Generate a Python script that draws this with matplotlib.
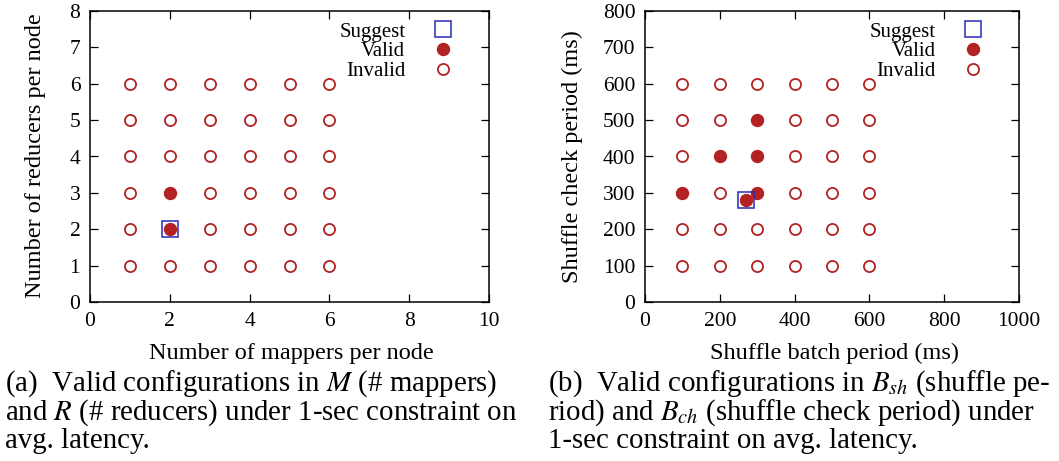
import matplotlib
matplotlib.use("Agg")
import matplotlib.pyplot as plt
from matplotlib.lines import Line2D

plt.rcParams['font.family'] = ['Liberation Serif', 'DejaVu Serif']
plt.rcParams['mathtext.fontset'] = 'stix'

RED = "#b22222"
BLUE = "#2a2ab8"

# (a) mappers / reducers
mappers = [1, 2, 3, 4, 5, 6]
reducers = [1, 2, 3, 4, 5, 6]
valid_mappers = [2, 2]
valid_reducers = [2, 3]
suggest_mr = (2, 2)

# (b) shuffle batch / check period (ms)
batch_periods = [100, 200, 300, 400, 500, 600]
check_periods = [100, 200, 300, 400, 500, 600]
valid_batch = [100, 200, 300, 300, 300, 270]
valid_check = [300, 400, 300, 400, 500, 280]
suggest_bc = (270, 280)

W, H = 1059, 461


def draw_panel(ax, xs, ys, vx, vy, sug, xlim, ylim, xticks, yticks, anchor_x):
    valid = set(zip(vx, vy))
    inv = [(x, y) for x in xs for y in ys if (x, y) not in valid]
    ax.plot([p[0] for p in inv], [p[1] for p in inv], 'o', ls='none',
            mfc='white', mec=RED, mew=1.3, ms=8, zorder=3)
    ax.plot(vx, vy, 'o', ls='none', mfc=RED, mec=RED, ms=8.6, zorder=4)
    ax.plot([sug[0]], [sug[1]], 's', ls='none', mfc='none', mec=BLUE,
            mew=1.1, ms=12, zorder=5)
    ax.set_xlim(*xlim)
    ax.set_ylim(*ylim)
    ax.set_xticks(xticks)
    ax.set_yticks(yticks)
    ax.tick_params(direction='in', top=True, right=True, length=6,
                   width=0.9, labelsize=15.5, pad=7)
    for s in ax.spines.values():
        s.set_linewidth(1.1)
    handles = [
        Line2D([], [], marker='s', ls='none', mfc='none', mec=BLUE, mew=1.1, ms=12),
        Line2D([], [], marker='o', ls='none', mfc=RED, mec=RED, ms=8.6),
        Line2D([], [], marker='o', ls='none', mfc='white', mec=RED, mew=1.3, ms=8),
    ]
    ax.legend(handles, ['Suggest', 'Valid', 'Invalid'], loc='upper right',
              frameon=False, markerfirst=False, fontsize=15,
              handlelength=1.0, handletextpad=1.3, labelspacing=0.0,
              borderaxespad=0.3, bbox_to_anchor=(anchor_x, 1.012))


fig = plt.figure(figsize=(W / 100, H / 100), dpi=100)

ax1 = fig.add_axes([90 / W, (H - 302) / H, 399 / W, 291 / H])
draw_panel(ax1, mappers, reducers, valid_mappers, valid_reducers, suggest_mr,
           (0, 10), (0, 8), range(0, 11, 2), range(0, 9), 0.947)

ax2 = fig.add_axes([645 / W, (H - 302) / H, 374 / W, 291 / H])
draw_panel(ax2, batch_periods, check_periods, valid_batch, valid_check,
           suggest_bc, (0, 1000), (0, 800), range(0, 1001, 200),
           range(0, 801, 100), 0.944)

fig.text(36 / W, 1 - 156 / H, 'Number of reducers per node', fontsize=17.5,
         rotation=90, ha='center', va='center')
fig.text(572 / W, 1 - 157 / H, 'Shuffle check period (ms)', fontsize=17.5,
         rotation=90, ha='center', va='center')
fig.text(291 / W, 1 - 353 / H, 'Number of mappers per node', fontsize=17.5,
         ha='center', va='center')
fig.text(835 / W, 1 - 353 / H, 'Shuffle batch period (ms)', fontsize=17.5,
         ha='center', va='center')

cap_a = ["(a)  Valid configurations in $M$ (# mappers)",
         "and $R$ (# reducers) under 1-sec constraint on",
         "avg. latency."]
cap_b = ["(b)  Valid configurations in $B_{sh}$ (shuffle pe-",
         "riod) and $B_{ch}$ (shuffle check period) under",
         "1-sec constraint on avg. latency."]
for i, (a, b) in enumerate(zip(cap_a, cap_b)):
    y = 1 - (391 + 28.5 * i) / H
    fig.text(5 / W, y, a, fontsize=20.8, ha='left', va='baseline')
    fig.text(548 / W, y, b, fontsize=20.8, ha='left', va='baseline')

fig.savefig('out.png', dpi=100)
